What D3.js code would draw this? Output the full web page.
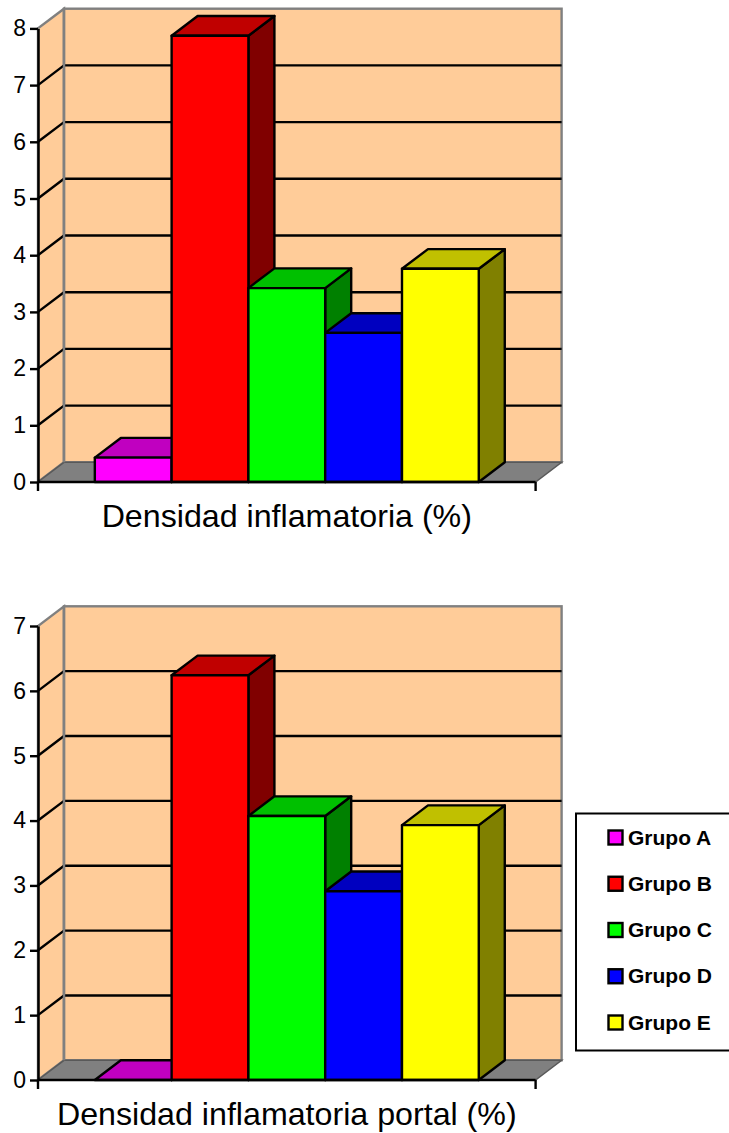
<!DOCTYPE html>
<html>
<head>
<meta charset="utf-8">
<script src="https://cdn.jsdelivr.net/npm/d3@7"></script>
<style>
html, body { margin: 0; padding: 0; background: #fff; }
svg { display: block; font-family: "Liberation Sans", Arial, sans-serif; }
</style>
</head>
<body>
<div id="chart"></div>
<script>
const grupos = ["Grupo A", "Grupo B", "Grupo C", "Grupo D", "Grupo E"];
const densidadInflamatoria = [0.43, 7.87, 3.42, 2.63, 3.76];
const densidadPortal = [0, 6.24, 4.07, 2.91, 3.93];
const ticksInflamatoria = [0, 1, 2, 3, 4, 5, 6, 7, 8];
const ticksPortal = [0, 1, 2, 3, 4, 5, 6, 7];
const colores = ["#ff00ff", "#ff0000", "#00ff00", "#0000ff", "#ffff00"];
const coloresTop = ["#c000c0", "#c00000", "#00c000", "#0000c0", "#c0c000"];
const coloresSide = ["#800080", "#800000", "#008000", "#000080", "#808000"];

const width = 729, height = 1133;
const depth = {x: 26, y: -19.7};
const left = 38, right = 535.6;

const svg = d3.select("#chart").append("svg")
    .attr("width", width)
    .attr("height", height);

const line = d3.line();

function drawChart(values, ticks, y0, yTop, title, titleY) {
    const g = svg.append("g");
    const x = d3.scaleBand().domain(grupos).range([left, right]).paddingInner(0).paddingOuter(0.74);
    const y = d3.scaleLinear().domain([0, d3.max(ticks)]).range([y0, yTop]);
    const top = d3.max(ticks);

    // side wall, back wall, floor
    g.append("path")
        .attr("d", line([[left, y(0)], [left + depth.x, y(0) + depth.y], [left + depth.x, y(top) + depth.y], [left, y(top)]]) + "Z")
        .attr("fill", "#ffcc99").attr("stroke", "#808080").attr("stroke-width", 2.4);
    g.append("rect")
        .attr("x", left + depth.x)
        .attr("y", y(top) + depth.y)
        .attr("width", right - left)
        .attr("height", y(0) - y(top))
        .attr("fill", "#ffcc99").attr("stroke", "#808080").attr("stroke-width", 2.4);
    g.append("path")
        .attr("d", line([[left, y(0)], [right, y(0)], [right + depth.x, y(0) + depth.y], [left + depth.x, y(0) + depth.y]]) + "Z")
        .attr("fill", "#808080").attr("stroke", "#595959").attr("stroke-width", 1.5);

    // gridlines on the walls
    g.selectAll(".grid").data(ticks.filter((t) => t > 0 && t < top))
        .enter().append("path")
        .attr("class", "grid")
        .attr("fill", "none")
        .attr("stroke", "#000")
        .attr("stroke-width", 2.4)
        .attr("d", (t) => line([[left, y(t)], [left + depth.x, y(t) + depth.y], [right + depth.x, y(t) + depth.y]]));

    // redraw the gray corner over the grid ends
    g.append("line")
        .attr("x1", left + depth.x).attr("x2", left + depth.x)
        .attr("y1", y(top) + depth.y).attr("y2", y(0) + depth.y)
        .attr("stroke", "#808080").attr("stroke-width", 2.4);

    const bars = g.selectAll(".bar").data(values)
        .enter().append("g")
        .attr("class", "bar")
        .attr("stroke", "#000")
        .attr("stroke-width", 2.4)
        .attr("stroke-linejoin", "round");
    bars.append("path")
        .attr("fill", (d, i) => coloresSide[i])
        .attr("d", (d, i) => {
            const xr = x(grupos[i]) + x.bandwidth();
            return line([[xr, y(0)], [xr + depth.x, y(0) + depth.y], [xr + depth.x, y(d) + depth.y], [xr, y(d)]]) + "Z";
        });
    bars.append("path")
        .attr("fill", (d, i) => coloresTop[i])
        .attr("d", (d, i) => {
            const xl = x(grupos[i]), xr = xl + x.bandwidth();
            return line([[xl, y(d)], [xl + depth.x, y(d) + depth.y], [xr + depth.x, y(d) + depth.y], [xr, y(d)]]) + "Z";
        });
    bars.append("rect")
        .attr("fill", (d, i) => colores[i])
        .attr("x", (d, i) => x(grupos[i]))
        .attr("y", (d) => y(d))
        .attr("width", x.bandwidth())
        .attr("height", (d) => y(0) - y(d));

    // axes
    const yAxis = g.append("g")
        .attr("transform", `translate(${left},0)`)
        .call(d3.axisLeft(y).tickValues(ticks).tickFormat(d3.format("d")).tickSize(8).tickPadding(4).tickSizeOuter(0));
    yAxis.select(".domain").attr("stroke-width", 2.5);
    yAxis.selectAll(".tick line").attr("stroke-width", 2.4);
    yAxis.selectAll(".tick text").attr("font-size", 23).attr("font-family", "Liberation Sans").attr("fill", "#000");

    const xAxis = g.append("g");
    xAxis.append("line")
        .attr("x1", left).attr("x2", right).attr("y1", y(0)).attr("y2", y(0))
        .attr("stroke", "#000").attr("stroke-width", 2.5);
    xAxis.selectAll(".xtick").data([left, right])
        .enter().append("line")
        .attr("class", "xtick")
        .attr("x1", (d) => d).attr("x2", (d) => d)
        .attr("y1", y(0)).attr("y2", y(0) + 9)
        .attr("stroke", "#000").attr("stroke-width", 2.4);

    g.append("text")
        .attr("x", (left + right) / 2)
        .attr("y", titleY)
        .attr("text-anchor", "middle")
        .attr("font-size", 32.2)
        .attr("fill", "#000")
        .text(title);
}

drawChart(densidadInflamatoria, ticksInflamatoria, 482, 28.4, "Densidad inflamatoria (%)", 526.5);
drawChart(densidadPortal, ticksPortal, 1080, 626, "Densidad inflamatoria portal (%)", 1124.5);

// legend
const legend = svg.append("g");
legend.append("rect")
    .attr("x", 576).attr("y", 813.5)
    .attr("width", 170).attr("height", 237)
    .attr("fill", "#fff").attr("stroke", "#000").attr("stroke-width", 2);
const legendY = d3.scalePoint().domain(grupos).range([837.5, 1022.5]);
const items = legend.selectAll(".item").data(grupos)
    .enter().append("g")
    .attr("class", "item")
    .attr("transform", (d) => `translate(0,${legendY(d)})`);
items.append("rect")
    .attr("x", 608.5).attr("y", -7)
    .attr("width", 14).attr("height", 14)
    .attr("fill", (d, i) => colores[i])
    .attr("stroke", "#000").attr("stroke-width", 2.4);
items.append("text")
    .attr("x", 628).attr("y", 7)
    .attr("font-size", 21)
    .attr("font-weight", "bold")
    .attr("fill", "#000")
    .text((d) => d);
</script>
</body>
</html>
